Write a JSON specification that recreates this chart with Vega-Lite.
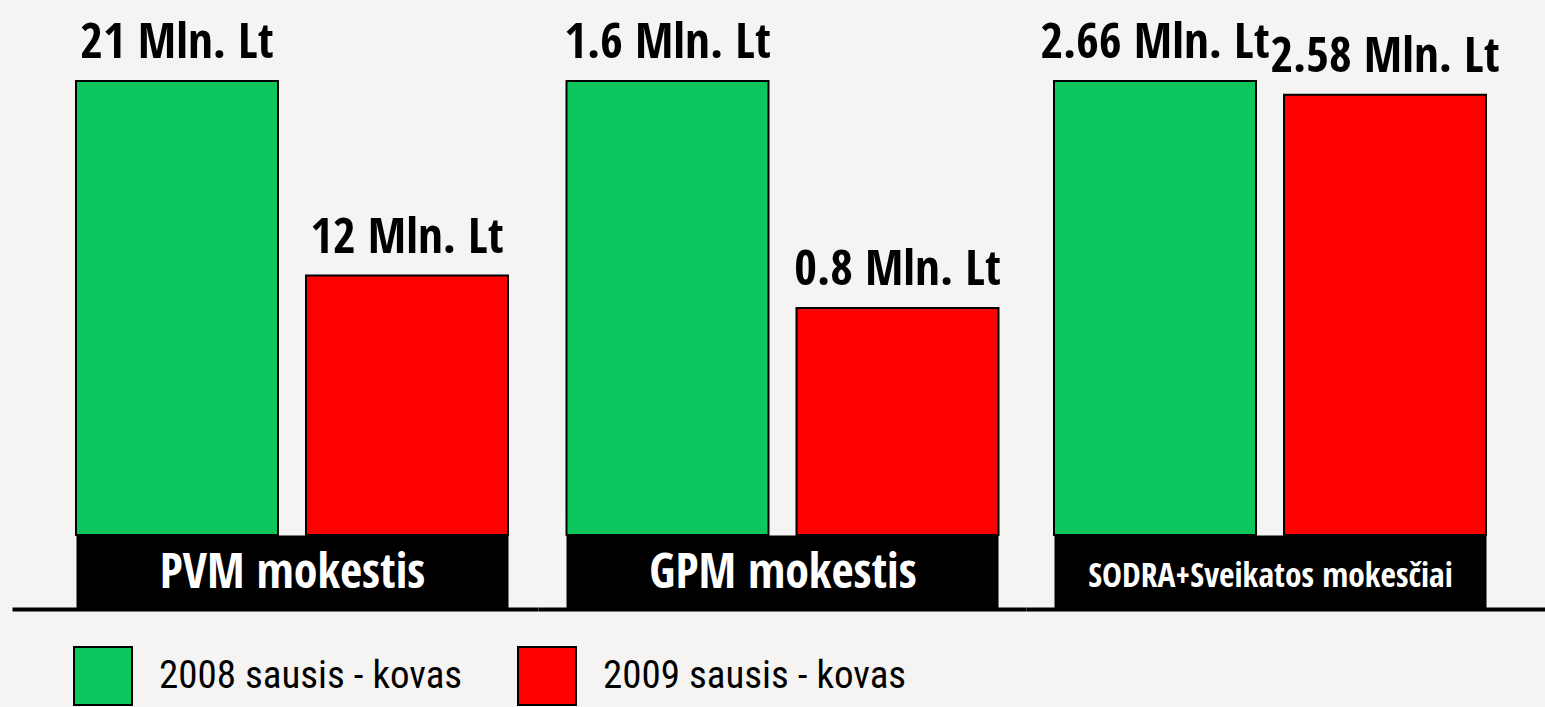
{
  "$schema": "https://vega.github.io/schema/vega-lite/v6.json",
  "background": "#f5f4f2",
  "padding": {"left": 12, "top": 19, "right": 0, "bottom": 0},
  "spacing": 0,
  "bounds": "flush",
  "config": {"view": {"stroke": null}},
  "resolve": {"scale": {"color": "shared", "x": "independent", "y": "independent"}, "legend": {"color": "shared"}},
  "data": {
    "values": [
      {"tax": "PVM mokestis", "period": "2008 sausis - kovas", "value": 21, "label": "21 Mln. Lt"},
      {"tax": "PVM mokestis", "period": "2009 sausis - kovas", "value": 12, "label": "12 Mln. Lt"},
      {"tax": "GPM mokestis", "period": "2008 sausis - kovas", "value": 1.6, "label": "1.6 Mln. Lt"},
      {"tax": "GPM mokestis", "period": "2009 sausis - kovas", "value": 0.8, "label": "0.8 Mln. Lt"},
      {"tax": "SODRA+Sveikatos mokesčiai", "period": "2008 sausis - kovas", "value": 2.66, "label": "2.66 Mln. Lt"},
      {"tax": "SODRA+Sveikatos mokesčiai", "period": "2009 sausis - kovas", "value": 2.58, "label": "2.58 Mln. Lt"}
    ]
  },
  "hconcat": [
    {
      "width": 526,
      "height": 454,
      "transform": [{"filter": "datum.tax === 'PVM mokestis'"}],
      "layer": [
        {
          "mark": {"type": "bar", "stroke": "black", "strokeWidth": 2},
          "encoding": {
            "x": {"field": "period", "type": "nominal",
              "scale": {"paddingInner": 0.121739, "paddingOuter": 0.204348, "align": 0.680851},
              "axis": {"title": "PVM mokestis", "values": ["2008 sausis - kovas"], "labels": false, "grid": false,
                "ticks": true, "tickSize": -74, "tickWidth": 432, "tickColor": "black", "tickCap": "butt", "bandPosition": 1.069307,
                "offset": 74, "domainColor": "black", "domainWidth": 4, "domainCap": "butt",
                "titleColor": "white", "titleFont": "Open Sans Condensed, DejaVu Sans Condensed, sans-serif", "titleFontSize": 48, "titleFontWeight": "bold",
                "titleX": 280, "titleY": -22, "titleBaseline": "alphabetic", "titleAlign": "center", "titlePadding": 0}},
            "y": {"field": "value", "type": "quantitative", "scale": {"nice": false, "zero": true}, "axis": null},
            "color": {"field": "period", "type": "nominal",
              "scale": {"domain": ["2008 sausis - kovas", "2009 sausis - kovas"], "range": ["#0cc65e", "#ff0000"]},
              "legend": {"orient": "none", "legendX": 61, "legendY": 565, "direction": "horizontal", "title": null,
                "symbolType": "square", "symbolSize": 3364, "symbolStrokeColor": "black", "symbolStrokeWidth": 2, "symbolOpacity": 1,
                "labelFont": "Roboto Condensed, DejaVu Sans Condensed, sans-serif", "labelFontSize": 39, "labelColor": "black",
                "labelOffset": 26, "columnPadding": 51, "labelLimit": 0, "padding": 0}}
          }
        },
        {
          "mark": {"type": "text", "dy": -23, "baseline": "alphabetic", "align": "center", "fontSize": 49, "fontWeight": "bold", "font": "Open Sans Condensed, DejaVu Sans Condensed, sans-serif", "color": "black"},
          "encoding": {
            "x": {"field": "period", "type": "nominal"},
            "y": {"field": "value", "type": "quantitative"},
            "text": {"field": "label", "type": "nominal"}
          }
        }
      ]
    },
    {
      "width": 488,
      "height": 454,
      "transform": [{"filter": "datum.tax === 'GPM mokestis'"}],
      "layer": [
        {
          "mark": {"type": "bar", "stroke": "black", "strokeWidth": 2},
          "encoding": {
            "x": {"field": "period", "type": "nominal",
              "scale": {"paddingInner": 0.121739, "paddingOuter": 0.121739, "align": 0.508929},
              "axis": {"title": "GPM mokestis", "values": ["2008 sausis - kovas"], "labels": false, "grid": false,
                "ticks": true, "tickSize": -74, "tickWidth": 432, "tickColor": "black", "tickCap": "butt", "bandPosition": 1.069307,
                "offset": 74, "domainColor": "black", "domainWidth": 4, "domainCap": "butt",
                "titleColor": "white", "titleFont": "Open Sans Condensed, DejaVu Sans Condensed, sans-serif", "titleFontSize": 48, "titleFontWeight": "bold",
                "titleX": 244.5, "titleY": -22, "titleBaseline": "alphabetic", "titleAlign": "center", "titlePadding": 0}},
            "y": {"field": "value", "type": "quantitative", "scale": {"nice": false, "zero": true}, "axis": null},
            "color": {"field": "period", "type": "nominal",
              "scale": {"domain": ["2008 sausis - kovas", "2009 sausis - kovas"], "range": ["#0cc65e", "#ff0000"]}}
          }
        },
        {
          "mark": {"type": "text", "dy": -23, "baseline": "alphabetic", "align": "center", "fontSize": 49, "fontWeight": "bold", "font": "Open Sans Condensed, DejaVu Sans Condensed, sans-serif", "color": "black"},
          "encoding": {
            "x": {"field": "period", "type": "nominal"},
            "y": {"field": "value", "type": "quantitative"},
            "text": {"field": "label", "type": "nominal"}
          }
        }
      ]
    },
    {
      "width": 519,
      "height": 454,
      "transform": [{"filter": "datum.tax === 'SODRA+Sveikatos mokesčiai'"}],
      "layer": [
        {
          "mark": {"type": "bar", "stroke": "black", "strokeWidth": 2},
          "encoding": {
            "x": {"field": "period", "type": "nominal",
              "scale": {"paddingInner": 0.121739, "paddingOuter": 0.18913, "align": 0.321839},
              "axis": {"title": "SODRA+Sveikatos mokesčiai", "values": ["2008 sausis - kovas"], "labels": false, "grid": false,
                "ticks": true, "tickSize": -74, "tickWidth": 432, "tickColor": "black", "tickCap": "butt", "bandPosition": 1.069307,
                "offset": 74, "domainColor": "black", "domainWidth": 4, "domainCap": "butt",
                "titleColor": "white", "titleFont": "Open Sans Condensed, DejaVu Sans Condensed, sans-serif", "titleFontSize": 33.5, "titleFontWeight": "bold",
                "titleX": 244, "titleY": -23, "titleBaseline": "alphabetic", "titleAlign": "center", "titlePadding": 0}},
            "y": {"field": "value", "type": "quantitative", "scale": {"nice": false, "zero": true}, "axis": null},
            "color": {"field": "period", "type": "nominal",
              "scale": {"domain": ["2008 sausis - kovas", "2009 sausis - kovas"], "range": ["#0cc65e", "#ff0000"]}}
          }
        },
        {
          "mark": {"type": "text", "dy": -23, "baseline": "alphabetic", "align": "center", "fontSize": 49, "fontWeight": "bold", "font": "Open Sans Condensed, DejaVu Sans Condensed, sans-serif", "color": "black"},
          "encoding": {
            "x": {"field": "period", "type": "nominal"},
            "y": {"field": "value", "type": "quantitative"},
            "text": {"field": "label", "type": "nominal"}
          }
        }
      ]
    }
  ]
}
